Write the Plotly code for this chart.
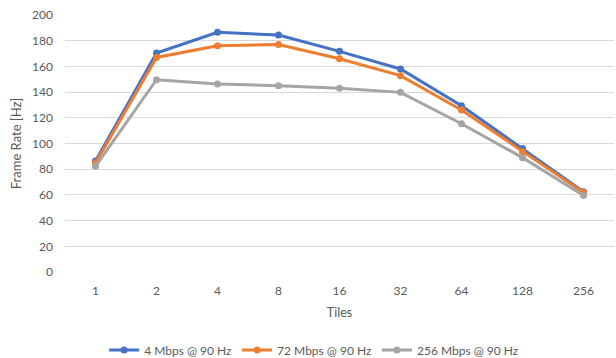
import plotly.graph_objects as go

# Frame rate vs. number of tiles for three bitrates
tiles = ["1", "2", "4", "8", "16", "32", "64", "128", "256"]
rate_4mbps = [86.3, 170.4, 186.5, 184.4, 171.7, 158.0, 129.4, 96.2, 62.5]
rate_72mbps = [84.8, 167.0, 176.1, 177.1, 166.0, 152.8, 126.1, 93.6, 61.8]
rate_256mbps = [82.2, 149.6, 146.3, 145.0, 142.9, 139.8, 115.4, 89.0, 59.6]

series_names = ["4 Mbps @ 90 Hz", "72 Mbps @ 90 Hz", "256 Mbps @ 90 Hz"]
series_colors = ["#4472C4", "#ED7D31", "#A5A5A5"]
y_ticks = list(range(0, 201, 20))

FONT = "Lato, 'Open Sans', sans-serif"
TEXT_COLOR = "#595959"

fig = go.Figure()
for name, values, color in zip(series_names, [rate_4mbps, rate_72mbps, rate_256mbps], series_colors):
    fig.add_trace(go.Scatter(
        x=tiles, y=values, name=name, mode="lines+markers",
        line=dict(color=color, width=3),
        marker=dict(color=color, size=7),
    ))

fig.update_layout(
    width=616, height=358,
    margin=dict(l=65, r=2, t=15, b=86, autoexpand=False),
    paper_bgcolor="white", plot_bgcolor="white",
    font=dict(family=FONT, size=12, color=TEXT_COLOR),
    showlegend=True,
    legend=dict(
        orientation="h", yref="container", xref="container",
        x=0.51, xanchor="center", y=0.022, yanchor="middle",
        font=dict(size=12, color=TEXT_COLOR),
        itemwidth=30, tracegroupgap=0,
    ),
)
fig.update_xaxes(
    type="category", range=[-0.5, 8.5], tickangle=0,
    showgrid=False, showline=False, zeroline=False,
    ticks="", ticklabelstandoff=10,
    title=dict(text="Tiles", font=dict(size=12.5, color=TEXT_COLOR), standoff=11),
)
fig.update_yaxes(
    range=[0, 200], tickvals=y_ticks,
    showgrid=True, gridcolor="#D9D9D9", gridwidth=1,
    zeroline=False, showline=False, ticks="",
    ticklabelstandoff=11,
    title=dict(text="Frame Rate [Hz]", font=dict(size=13, color=TEXT_COLOR), standoff=7),
)

fig.write_html("out.html")
